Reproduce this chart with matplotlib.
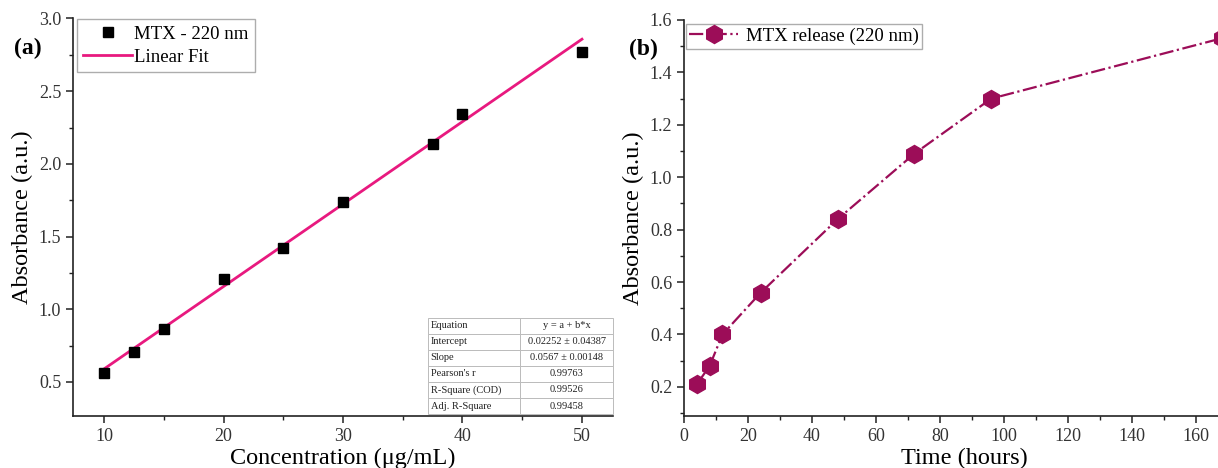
import matplotlib

matplotlib.use("Agg")
import matplotlib.pyplot as plt
from matplotlib.ticker import MultipleLocator

# calibration data, panel (a)
conc = [10, 12.5, 15, 20, 25, 30, 37.5, 40, 50]
absorb = [0.56, 0.705, 0.865, 1.205, 1.42, 1.74, 2.14, 2.345, 2.77]
fit_a = 0.02252
fit_b = 0.0567

fit_labels = ["Equation", "Intercept", "Slope", "Pearson's r",
              "R-Square (COD)", "Adj. R-Square"]
fit_values = ["y = a + b*x", "0.02252 \u00b1 0.04387", "0.0567 \u00b1 0.00148",
              "0.99763", "0.99526", "0.99458"]

# release data, panel (b)
hours = [4, 8, 12, 24, 48, 72, 96, 168]
release = [0.21, 0.28, 0.40, 0.56, 0.84, 1.09, 1.30, 1.53]

FIT_COLOR = "#E8197F"
REL_COLOR = "#9C0D58"

plt.rcParams["font.family"] = ["Liberation Serif", "DejaVu Serif"]

fig = plt.figure(figsize=(12.18, 4.68), dpi=100)
ax1 = fig.add_axes([0.0599, 0.1111, 0.4434, 0.8494])
ax2 = fig.add_axes([0.5616, 0.1111, 0.4598, 0.8462])

for ax in (ax1, ax2):
    for side in ("top", "right"):
        ax.spines[side].set_visible(False)
    for side in ("left", "bottom"):
        ax.spines[side].set_linewidth(1.2)
        ax.spines[side].set_color("#222222")
    ax.tick_params(which="major", direction="out", length=5, width=1.1,
                   labelsize=13, colors="#222222", labelcolor="#333333")
    ax.tick_params(which="minor", direction="out", length=3, width=1.0,
                   colors="#222222")

# (a) calibration
fit_x = [conc[0], conc[-1]]
fit_y = [fit_a + fit_b * x for x in fit_x]
ax1.plot(conc, absorb, "s", color="black", markersize=7, label="MTX - 220 nm",
         zorder=3)
ax1.plot(fit_x, fit_y, color=FIT_COLOR, linewidth=2, label="Linear Fit",
         zorder=2)
ax1.set_xlim(7.4, 52.6)
ax1.set_ylim(0.266, 3.0)
ax1.xaxis.set_major_locator(MultipleLocator(10))
ax1.xaxis.set_minor_locator(MultipleLocator(5))
ax1.yaxis.set_major_locator(MultipleLocator(0.5))
ax1.yaxis.set_minor_locator(MultipleLocator(0.25))
ax1.set_xlabel("Concentration (\u03bcg/mL)", fontsize=17.5, labelpad=2)
ax1.set_ylabel("Absorbance (a.u.)", fontsize=17.5, labelpad=4)
leg1 = ax1.legend(loc="upper left", bbox_to_anchor=(0.007, 0.998), fontsize=13.5,
                  frameon=True, fancybox=False, edgecolor="#999999",
                  borderpad=0.35, handlelength=2.6, handletextpad=0.1,
                  labelspacing=0.3, borderaxespad=0.0)
leg1.get_frame().set_linewidth(1.0)

tbl = ax1.table(cellText=[[l, v] for l, v in zip(fit_labels, fit_values)],
                cellLoc="center", bbox=[0.657, 0.005, 0.343, 0.242],
                zorder=4)
tbl.auto_set_font_size(False)
tbl.set_fontsize(7.5)
for (r, c), cell in tbl.get_celld().items():
    cell.set_edgecolor("#bbbbbb")
    cell.set_linewidth(0.7)
    cell.get_text().set_color("#222222")
    if c == 0:
        cell.get_text().set_ha("left")
        cell._loc = "left"
        cell.PAD = 0.03
ax1.text(-0.083, 0.925, "(a)", transform=ax1.transAxes, fontsize=17,
         fontweight="bold", ha="center", va="center")

# (b) release profile
ax2.plot(hours, release, color=REL_COLOR, linestyle="-.", linewidth=1.6,
         marker="h", markersize=13, label="MTX release (220 nm)",
         clip_on=False)
ax2.set_xlim(0, 175)
ax2.set_ylim(0.089, 1.6)
ax2.xaxis.set_major_locator(MultipleLocator(20))
ax2.xaxis.set_minor_locator(MultipleLocator(10))
ax2.yaxis.set_major_locator(MultipleLocator(0.2))
ax2.yaxis.set_minor_locator(MultipleLocator(0.1))
ax2.set_xlabel("Time (hours)", fontsize=17.5, labelpad=2)
ax2.set_ylabel("Absorbance (a.u.)", fontsize=17.5, labelpad=4)
leg2 = ax2.legend(loc="upper left", bbox_to_anchor=(0.003, 0.99), fontsize=13.5,
                  frameon=True, fancybox=False, edgecolor="#999999",
                  borderpad=0.2, handlelength=2.6, handletextpad=0.4,
                  borderaxespad=0.0)
leg2.get_frame().set_linewidth(1.0)
ax2.text(-0.073, 0.925, "(b)", transform=ax2.transAxes, fontsize=17,
         fontweight="bold", ha="center", va="center")

fig.savefig("out.png", dpi=100)
plt.close(fig)
